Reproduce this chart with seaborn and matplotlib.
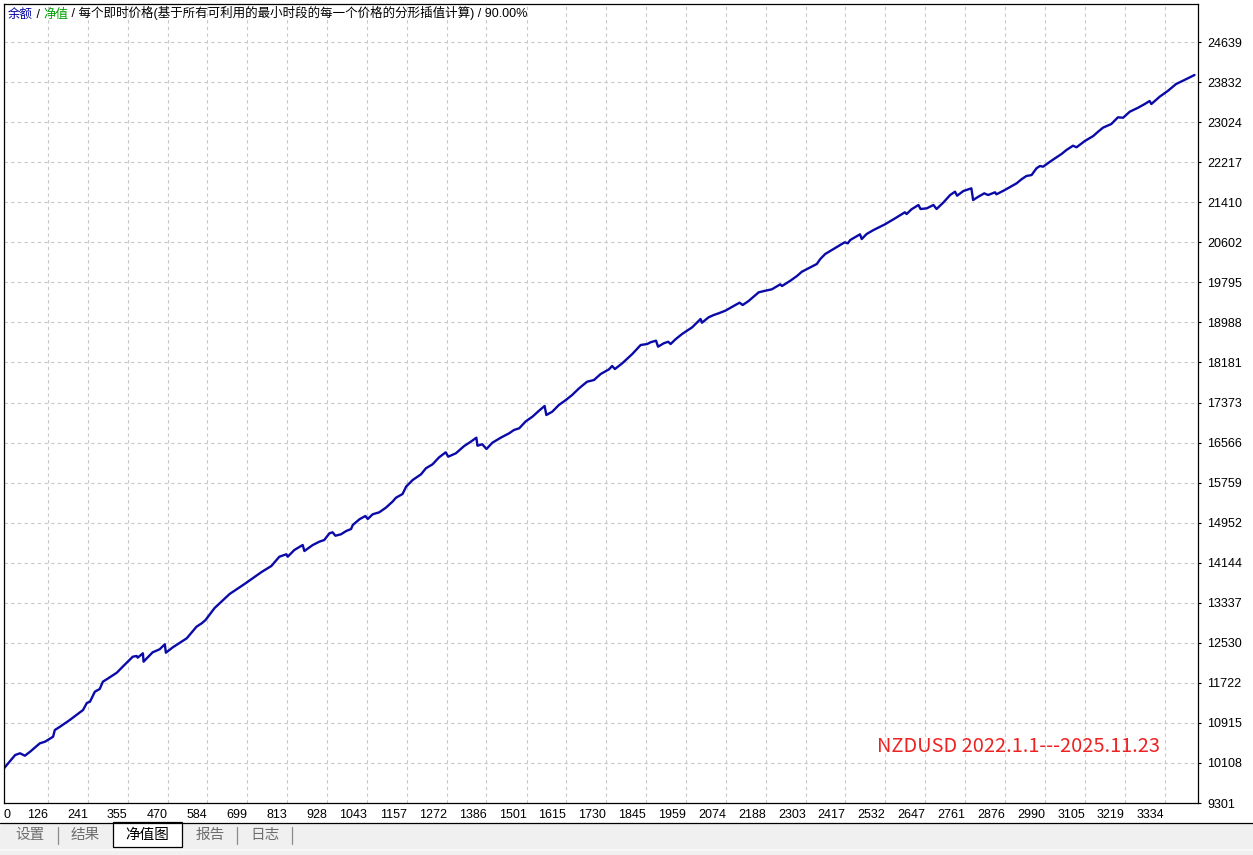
import matplotlib
matplotlib.use("Agg")
import matplotlib.pyplot as plt
from matplotlib.patches import Rectangle
from matplotlib.lines import Line2D
import seaborn as sns

# equity curve (trade number, equity)
trades = [0, 32, 46, 60, 75, 103, 118, 141, 146, 161, 189, 227, 238, 247, 261, 275, 284, 295,
          324, 341, 370, 381, 384, 399, 401, 413, 427, 447, 462, 465, 485, 510, 525, 553, 568,
          579, 605, 648, 691, 740, 768, 791, 811, 815, 834, 858, 863, 887, 906, 920, 935, 944,
          952, 968, 983, 997, 1002, 1021, 1038, 1045, 1059, 1078, 1097, 1116, 1126, 1145, 1155,
          1174, 1198, 1212, 1231, 1250, 1269, 1276, 1298, 1322, 1341, 1357, 1360, 1374, 1386,
          1403, 1427, 1451, 1465, 1480, 1499, 1518, 1537, 1553, 1558, 1575, 1594, 1614, 1632,
          1652, 1675, 1695, 1714, 1738, 1747, 1755, 1776, 1805, 1829, 1848, 1857, 1873, 1879,
          1895, 1908, 1915, 1929, 1948, 1977, 2001, 2005, 2024, 2039, 2053, 2072, 2096, 2113,
          2122, 2139, 2168, 2187, 2206, 2230, 2235, 2259, 2278, 2292, 2311, 2335, 2345, 2359,
          2378, 2402, 2415, 2424, 2431, 2459, 2464, 2478, 2498, 2531, 2560, 2588, 2593, 2607,
          2627, 2633, 2651, 2670, 2679, 2698, 2718, 2732, 2738, 2756, 2779, 2784, 2799, 2816,
          2827, 2847, 2851, 2875, 2909, 2923, 2937, 2952, 2966, 2976, 2985, 3009, 3038, 3052,
          3071, 3081, 3105, 3129, 3143, 3157, 3181, 3200, 3215, 3234, 3258, 3277, 3291, 3296,
          3320, 3344, 3367, 3391, 3420]
equity = [10000, 10268, 10303, 10254, 10335, 10504, 10537, 10637, 10772, 10839, 10974, 11175,
          11317, 11343, 11544, 11599, 11746, 11794, 11927, 12048, 12250, 12264, 12230, 12318,
          12149, 12238, 12338, 12399, 12500, 12330, 12439, 12552, 12621, 12854, 12923, 12989,
          13231, 13513, 13715, 13957, 14078, 14265, 14314, 14265, 14400, 14501, 14380, 14501,
          14568, 14602, 14737, 14757, 14688, 14717, 14783, 14823, 14904, 15019, 15085, 15025,
          15120, 15160, 15253, 15374, 15454, 15529, 15676, 15811, 15926, 16047, 16127, 16269,
          16369, 16281, 16349, 16496, 16583, 16664, 16502, 16531, 16436, 16563, 16664, 16752,
          16819, 16853, 16994, 17087, 17208, 17303, 17121, 17188, 17323, 17423, 17524, 17659,
          17792, 17827, 17947, 18042, 18109, 18048, 18163, 18351, 18532, 18552, 18586, 18619,
          18498, 18566, 18598, 18552, 18647, 18754, 18889, 19056, 18981, 19090, 19137, 19171,
          19223, 19318, 19385, 19338, 19419, 19594, 19626, 19655, 19755, 19721, 19828, 19923,
          20009, 20078, 20165, 20265, 20366, 20447, 20547, 20602, 20582, 20648, 20763, 20668,
          20769, 20850, 20965, 21086, 21207, 21172, 21267, 21354, 21273, 21287, 21354, 21273,
          21400, 21555, 21622, 21541, 21636, 21690, 21454, 21521, 21589, 21555, 21610, 21569,
          21656, 21791, 21872, 21938, 21958, 22093, 22140, 22126, 22247, 22382, 22462, 22549,
          22517, 22644, 22744, 22831, 22912, 22986, 23121, 23113, 23234, 23315, 23389, 23450,
          23389, 23537, 23657, 23792, 23873, 23974]

x_ticks = [0, 126, 241, 355, 470, 584, 699, 813, 928, 1043, 1157, 1272, 1386, 1501, 1615,
           1730, 1845, 1959, 2074, 2188, 2303, 2417, 2532, 2647, 2761, 2876, 2990, 3105, 3219, 3334]
y_ticks = [9301, 10108, 10915, 11722, 12530, 13337, 14144, 14952, 15759, 16566, 17373, 18181,
           18988, 19795, 20602, 21410, 22217, 23024, 23832, 24639]

title_parts = [("余额", "#0000a0"), (" / ", "black"), ("净值", "#00a000"),
               (" / 每个即时价格(基于所有可利用的最小时段的每一个价格的分形插值计算) / 90.00%", "black")]
note = "NZDUSD 2022.1.1---2025.11.23"
tabs = ["设置", "结果", "净值图", "报告", "日志"]

sns.set_style("white")
plt.rcParams["font.family"] = ["Liberation Sans", "Noto Sans CJK SC", "DejaVu Sans"]

W, H = 1253, 855
fig = plt.figure(figsize=(W / 100, H / 100), dpi=100)
ax = fig.add_axes([4 / W, 1 - 803 / H, 1194 / W, 799 / H])

sns.lineplot(x=trades, y=equity, sort=False, estimator=None, color="#0a0aa8",
             linewidth=1.7, ax=ax)

ax.set_xlim(0, 3430)
ax.set_ylim(9301, 25405)
ax.set_xticks(x_ticks)
ax.set_xticklabels([str(v) for v in x_ticks])
ax.set_yticks(y_ticks)
ax.set_yticklabels([str(v) for v in y_ticks])
ax.yaxis.tick_right()
ax.grid(True, color="#c8c8c8", linestyle=(0, (3, 3)), linewidth=0.8)
for s in ax.spines.values():
    s.set_visible(True)
    s.set_color("black")
    s.set_linewidth(0.9)
ax.tick_params(axis="y", direction="out", length=2.5, width=0.8, pad=4, labelsize=9,
               colors="black")
ax.tick_params(axis="x", direction="out", length=2.5, width=0.8, pad=1.5, labelsize=9,
               color="#b0b0b0", labelcolor="black")
for i, lbl in enumerate(ax.get_xticklabels()):
    lbl.set_ha("left" if i == 0 else "right")

# coloured header line
prev = ax.text(4 / 1194, (803 - 14.5) / 799, title_parts[0][0], color=title_parts[0][1],
               transform=ax.transAxes, fontsize=9, va="center", ha="left")
for txt, col in title_parts[1:]:
    prev = ax.annotate(txt, xy=(1, 0), xycoords=prev, color=col, fontsize=9,
                       va="bottom", ha="left")

ax.text((877 - 4) / 1194, (803 - 746) / 799, note, color="#ee2222", fontsize=14.4,
        family=["Noto Sans CJK SC", "DejaVu Sans"], transform=ax.transAxes,
        va="center", ha="left")

# tab strip at the bottom
fig.add_artist(Rectangle((0, 0), 1, 1 - 823 / H, transform=fig.transFigure,
                         facecolor="#f0f0f0", edgecolor="none"))
fig.add_artist(Line2D([0, 1], [1 - 822.5 / H] * 2, transform=fig.transFigure,
                      color="black", linewidth=0.9))
fig.add_artist(Line2D([0, 1], [1 - 850 / H] * 2, transform=fig.transFigure,
                      color="#fafafa", linewidth=1.2))
fig.add_artist(Rectangle((113 / W, 1 - 847 / H), 69 / W, 25 / H, transform=fig.transFigure,
                         facecolor="white", edgecolor="black", linewidth=0.9))
tab_x = [30, 85, 147.5, 210, 265]
for i, (t, xp) in enumerate(zip(tabs, tab_x)):
    fig.text(xp / W, 1 - 835 / H, t, fontsize=10.5, ha="center", va="center",
             color="black" if i == 2 else "#6e6e6e", family=["Noto Sans CJK SC"])
for xp in [58, 237, 292]:
    fig.add_artist(Line2D([xp / W] * 2, [1 - 827 / H, 1 - 844 / H], transform=fig.transFigure,
                          color="#8a8a8a", linewidth=0.9))

fig.savefig("out.png", dpi=100)
